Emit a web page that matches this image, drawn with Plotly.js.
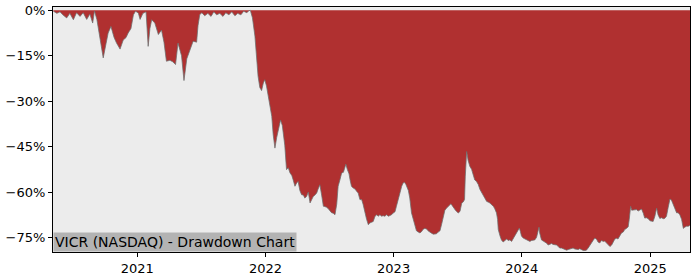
<!DOCTYPE html>
<html>
<head>
<meta charset="utf-8">
<script src="https://cdn.plot.ly/plotly-3.0.1.min.js"></script>
<style>
  html, body { margin: 0; padding: 0; background: #ffffff; }
  #chart { width: 700px; height: 280px; }
</style>
</head>
<body>
<div id="chart"></div>
<script>
const dates = [
  "2020-05-07","2020-05-17","2020-05-26","2020-06-03","2020-06-14","2020-06-23","2020-07-03","2020-07-12","2020-07-22","2020-07-31",
  "2020-08-10","2020-08-19","2020-08-27","2020-09-01","2020-09-08","2020-09-17","2020-09-26","2020-10-04","2020-10-10","2020-10-18",
  "2020-10-27","2020-11-03","2020-11-13","2020-11-22","2020-11-30","2020-12-06","2020-12-14","2020-12-21","2020-12-27",
  "2021-01-04","2021-01-09","2021-01-17","2021-01-26","2021-02-01","2021-02-06","2021-02-11","2021-02-20","2021-03-02","2021-03-11",
  "2021-03-18","2021-03-25","2021-04-04","2021-04-12","2021-04-20","2021-04-27","2021-05-07","2021-05-14","2021-05-22","2021-05-31",
  "2021-06-09","2021-06-19","2021-06-23","2021-06-28","2021-07-04","2021-07-12","2021-07-21","2021-07-30","2021-08-07","2021-08-15",
  "2021-08-24","2021-09-02","2021-09-10","2021-09-19","2021-09-27","2021-10-06","2021-10-14","2021-10-23","2021-10-31","2021-11-09",
  "2021-11-15","2021-11-19","2021-11-25","2021-12-02","2021-12-06","2021-12-11","2021-12-16","2021-12-21","2021-12-26","2021-12-30",
  "2022-01-04","2022-01-09","2022-01-14","2022-01-19","2022-01-23","2022-01-28","2022-02-02","2022-02-06","2022-02-13","2022-02-18",
  "2022-02-23","2022-02-25","2022-03-02","2022-03-07","2022-03-12","2022-03-17","2022-03-21","2022-03-26","2022-03-31","2022-04-04",
  "2022-04-09","2022-04-14","2022-04-19","2022-04-23","2022-04-28","2022-05-03","2022-05-08","2022-05-12","2022-05-17","2022-05-22",
  "2022-05-27","2022-05-31","2022-06-05","2022-06-10","2022-06-15","2022-06-19","2022-06-24","2022-06-29","2022-07-04","2022-07-08",
  "2022-07-13","2022-07-18","2022-07-23","2022-07-27","2022-08-01","2022-08-06","2022-08-11","2022-08-15","2022-08-18","2022-08-22",
  "2022-08-27","2022-08-30","2022-09-03","2022-09-08","2022-09-13","2022-09-18","2022-09-22","2022-09-27","2022-10-02","2022-10-06",
  "2022-10-11","2022-10-16","2022-10-21","2022-10-25","2022-10-30","2022-11-04","2022-11-09","2022-11-14","2022-11-18","2022-11-23",
  "2022-11-28","2022-12-02","2022-12-07","2022-12-12","2022-12-17","2022-12-21","2022-12-26","2022-12-31",
  "2023-01-05","2023-01-09","2023-01-14","2023-01-19","2023-01-24","2023-01-28","2023-02-01","2023-02-05","2023-02-12","2023-02-16",
  "2023-02-21","2023-02-26","2023-03-03","2023-03-07","2023-03-12","2023-03-17","2023-03-22","2023-03-26","2023-03-31","2023-04-05",
  "2023-04-09","2023-04-14","2023-04-19","2023-04-24","2023-04-29","2023-05-03","2023-05-08","2023-05-13","2023-05-18","2023-05-22",
  "2023-05-27","2023-06-01","2023-06-05","2023-06-10","2023-06-13","2023-06-17","2023-06-22","2023-06-26","2023-06-30","2023-07-04",
  "2023-07-09","2023-07-14","2023-07-18","2023-07-22","2023-07-24","2023-07-28","2023-08-01","2023-08-06","2023-08-11","2023-08-16",
  "2023-08-20","2023-08-25","2023-08-30","2023-09-04","2023-09-08","2023-09-13","2023-09-18","2023-09-23","2023-09-27","2023-10-02",
  "2023-10-07","2023-10-12","2023-10-16","2023-10-21","2023-10-24","2023-10-26","2023-10-31","2023-11-04","2023-11-09","2023-11-14",
  "2023-11-19","2023-11-23","2023-11-28","2023-12-03","2023-12-08","2023-12-12","2023-12-17","2023-12-22","2023-12-25","2023-12-28",
  "2023-12-31","2024-01-05","2024-01-10","2024-01-15","2024-01-19","2024-01-24","2024-01-29","2024-02-02","2024-02-07","2024-02-12",
  "2024-02-16","2024-02-19","2024-02-21","2024-02-26","2024-03-02","2024-03-07","2024-03-12","2024-03-16","2024-03-21","2024-03-26",
  "2024-03-30","2024-04-04","2024-04-09","2024-04-14","2024-04-18","2024-04-23","2024-04-28","2024-05-03","2024-05-08","2024-05-12",
  "2024-05-17","2024-05-22","2024-05-26","2024-05-31","2024-06-05","2024-06-10","2024-06-14","2024-06-19","2024-06-24","2024-06-29",
  "2024-07-03","2024-07-08","2024-07-13","2024-07-18","2024-07-22","2024-07-27","2024-08-01","2024-08-05","2024-08-10","2024-08-15",
  "2024-08-20","2024-08-24","2024-08-29","2024-09-03","2024-09-08","2024-09-13","2024-09-17","2024-09-22","2024-09-27","2024-10-01",
  "2024-10-06","2024-10-11","2024-10-16","2024-10-20","2024-10-25","2024-10-30","2024-11-02","2024-11-06","2024-11-09","2024-11-13",
  "2024-11-18","2024-11-23","2024-11-27","2024-12-02","2024-12-07","2024-12-12","2024-12-16","2024-12-21","2024-12-26","2024-12-31",
  "2025-01-05","2025-01-09","2025-01-14","2025-01-19","2025-01-23","2025-01-28","2025-02-02","2025-02-07","2025-02-11","2025-02-16",
  "2025-02-21","2025-02-26","2025-03-02","2025-03-07","2025-03-12","2025-03-17","2025-03-21","2025-03-26","2025-03-31","2025-04-05",
  "2025-04-09","2025-04-14","2025-04-19","2025-04-24"
];

const drawdownPct = [
  -0.3,-1.0,-0.5,-1.5,-2.5,-1.0,-3.1,-0.8,-2.0,-0.8,
  -3.0,-1.2,-4.2,-0.2,-3.0,-9.0,-15.7,-11.0,-7.5,-5.3,
  -9.0,-10.8,-12.8,-9.8,-9.0,-7.5,-6.0,-1.5,-0.3,
  -0.9,-3.0,-1.0,-0.5,-11.9,-6.0,-3.1,-4.2,-8.0,-6.5,
  -10.5,-16.8,-16.5,-17.0,-17.9,-10.8,-15.0,-23.2,-16.0,-13.0,
  -10.2,-10.5,-5.0,-1.4,-0.8,-1.8,-1.0,-2.0,-0.5,-1.5,
  -1.0,-2.0,-0.8,-1.5,-0.5,-1.8,-1.0,-1.5,-0.3,-0.8,
  -0.1,0.0,-2.5,-8.5,-16.0,-21.8,-25.5,-26.5,-24.0,-22.9,
  -25.0,-28.4,-31.0,-35.0,-41.0,-45.5,-42.0,-39.4,-36.2,-38.0,
  -42.0,-44.5,-52.6,-52.0,-53.7,-54.5,-56.0,-58.1,-57.0,-56.5,
  -59.5,-60.9,-61.0,-62.0,-61.5,-60.0,-63.6,-62.5,-61.5,-61.0,
  -60.3,-59.0,-57.6,-61.0,-64.7,-64.8,-65.0,-65.5,-66.4,-66.8,
  -67.0,-67.5,-64.0,-58.1,-56.0,-53.7,-53.5,-52.0,-50.8,-52.5,
  -54.0,-56.0,-58.1,-58.7,-59.0,-59.8,-60.3,-62.5,-62.5,-64.0,
  -66.9,-69.0,-70.8,-70.2,-70.0,-69.7,-68.0,-67.5,-68.0,-67.5,
  -68.0,-67.8,-68.0,-67.5,-68.0,-67.8,-67.5,-66.9,
  -66.5,-64.7,-62.0,-60.3,-58.1,-57.0,-56.8,-57.5,-59.5,-62.0,
  -66.9,-69.0,-71.9,-72.8,-73.2,-73.5,-73.0,-72.3,-72.0,-72.2,
  -72.8,-73.3,-73.6,-73.9,-73.9,-73.8,-73.2,-72.8,-70.5,-68.0,
  -66.0,-65.3,-64.8,-64.2,-63.9,-64.5,-65.5,-66.0,-66.5,-66.9,
  -66.4,-63.6,-63.3,-62.5,-55.0,-46.6,-49.5,-51.5,-52.5,-54.5,
  -56.0,-56.5,-57.5,-59.2,-60.0,-61.4,-62.3,-63.1,-63.3,-63.6,
  -64.2,-64.7,-65.5,-66.9,-69.0,-72.4,-74.5,-75.8,-76.5,-76.0,
  -75.5,-76.0,-75.8,-76.3,-75.5,-74.5,-73.5,-72.5,-71.9,-73.0,
  -74.5,-75.2,-75.5,-75.6,-75.8,-76.3,-76.0,-75.8,-75.8,-75.0,
  -72.5,-71.6,-73.5,-75.8,-76.2,-76.5,-76.9,-77.5,-77.3,-77.0,
  -77.3,-77.3,-77.5,-78.0,-78.5,-78.5,-78.8,-79.0,-79.2,-79.0,
  -78.8,-78.7,-78.5,-78.8,-78.8,-79.0,-78.7,-79.0,-79.3,-79.3,
  -79.2,-78.5,-77.5,-76.9,-76.0,-75.2,-75.6,-76.5,-76.8,-76.0,
  -76.3,-76.2,-76.8,-77.3,-78.0,-77.5,-76.5,-75.5,-75.3,-75.5,
  -74.5,-73.5,-73.2,-72.4,-72.0,-71.5,-69.0,-64.7,-66.0,-66.0,
  -65.8,-65.8,-66.3,-66.0,-65.6,-67.0,-68.6,-68.5,-68.8,-69.5,
  -69.7,-69.7,-68.0,-65.3,-67.5,-68.7,-68.5,-68.8,-68.7,-68.0,
  -65.0,-62.3,-62.6,-64.0,-66.0,-66.9,-66.8,-67.5,-69.0,-72.0,
  -71.6,-71.3,-71.3,-71.0
];

const yTickVals = [0, -15, -30, -45, -60, -75];
const yTickText = ["0%", "\u221215%", "\u221230%", "\u221245%", "\u221260%", "\u221275%"];
const xTickVals = ["2021-01-01", "2022-01-01", "2023-01-01", "2024-01-01", "2025-01-01"];
const xTickText = ["2021", "2022", "2023", "2024", "2025"];
const chartLabel = "VICR (NASDAQ) - Drawdown Chart";

const trace = {
  x: dates,
  y: drawdownPct,
  type: "scatter",
  mode: "lines",
  fill: "tozeroy",
  fillcolor: "#b03030",
  line: { color: "rgba(110,110,110,0.75)", width: 1 },
  hoverinfo: "skip"
};

const layout = {
  width: 700,
  height: 280,
  margin: { l: 53, r: 10, t: 7, b: 28, pad: 0 },
  paper_bgcolor: "#ffffff",
  plot_bgcolor: "#ececec",
  showlegend: false,
  font: { family: "DejaVu Sans", size: 13, color: "#000000" },
  xaxis: {
    type: "date",
    range: ["2020-05-06", "2025-04-24"],
    tickmode: "array",
    tickvals: xTickVals,
    ticktext: xTickText,
    ticks: "outside",
    ticklen: 4,
    tickwidth: 1,
    tickcolor: "#000000",
    showgrid: false,
    zeroline: false,
    showline: true,
    linecolor: "#000000",
    linewidth: 1,
    mirror: true,
    tickfont: { family: "DejaVu Sans", size: 13, color: "#000000" }
  },
  yaxis: {
    range: [-79.8, 1.1],
    tickmode: "array",
    tickvals: yTickVals,
    ticktext: yTickText,
    ticks: "outside",
    ticklen: 4,
    tickwidth: 1,
    tickcolor: "#000000",
    showgrid: false,
    zeroline: false,
    showline: true,
    linecolor: "#000000",
    linewidth: 1,
    mirror: true,
    tickfont: { family: "DejaVu Sans", size: 13, color: "#000000" }
  },
  annotations: [{
    text: chartLabel,
    xref: "paper", yref: "paper",
    x: 0, y: 0,
    xanchor: "left", yanchor: "bottom",
    showarrow: false,
    bgcolor: "#b3b3b3",
    borderpad: 1,
    font: { family: "DejaVu Sans", size: 14, color: "#000000" }
  }]
};

Plotly.newPlot("chart", [trace], layout, { displayModeBar: false, staticPlot: true });
</script>
</body>
</html>
